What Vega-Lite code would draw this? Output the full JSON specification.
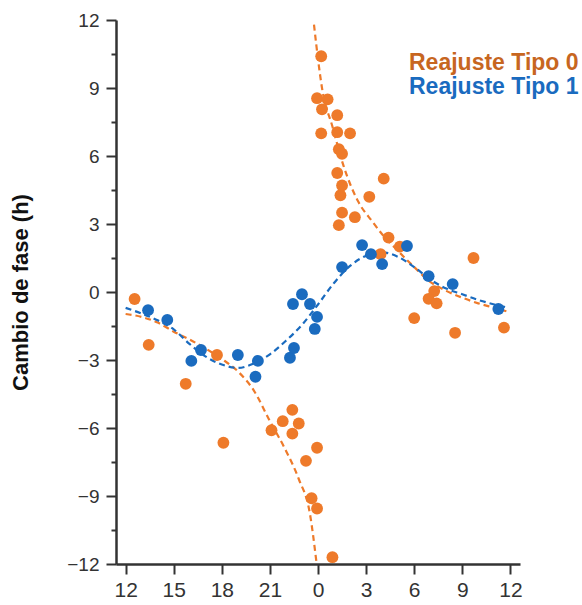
{
  "$schema": "https://vega.github.io/schema/vega-lite/v6.json",
  "autosize": "none",
  "width": 404,
  "height": 544,
  "padding": {"left": 116, "top": 20, "right": 62, "bottom": 41},
  "background": "white",
  "config": {
    "view": {"stroke": null},
    "font": "Liberation Sans",
    "axis": {
      "grid": false,
      "domainColor": "#333333",
      "domainWidth": 2.5,
      "tickColor": "#333333",
      "tickWidth": 2,
      "labelColor": "#333333",
      "labelFont": "Liberation Sans",
      "labelOverlap": false
    }
  },
  "datasets": {
    "puntos": [
      {"hora": -11.44, "cambio": -0.31, "grupo": "Reajuste Tipo 0"},
      {"hora": -10.56, "cambio": -2.33, "grupo": "Reajuste Tipo 0"},
      {"hora": -8.25, "cambio": -4.05, "grupo": "Reajuste Tipo 0"},
      {"hora": -6.3, "cambio": -2.78, "grupo": "Reajuste Tipo 0"},
      {"hora": -5.9, "cambio": -6.65, "grupo": "Reajuste Tipo 0"},
      {"hora": -2.9, "cambio": -6.1, "grupo": "Reajuste Tipo 0"},
      {"hora": -2.2, "cambio": -5.7, "grupo": "Reajuste Tipo 0"},
      {"hora": -1.6, "cambio": -5.2, "grupo": "Reajuste Tipo 0"},
      {"hora": -1.2, "cambio": -5.8, "grupo": "Reajuste Tipo 0"},
      {"hora": -1.6, "cambio": -6.25, "grupo": "Reajuste Tipo 0"},
      {"hora": -0.06, "cambio": -6.87, "grupo": "Reajuste Tipo 0"},
      {"hora": -0.75, "cambio": -7.45, "grupo": "Reajuste Tipo 0"},
      {"hora": -0.4, "cambio": -9.1, "grupo": "Reajuste Tipo 0"},
      {"hora": -0.06, "cambio": -9.55, "grupo": "Reajuste Tipo 0"},
      {"hora": 0.9, "cambio": -11.7, "grupo": "Reajuste Tipo 0"},
      {"hora": 0.2, "cambio": 10.4, "grupo": "Reajuste Tipo 0"},
      {"hora": -0.06, "cambio": 8.55, "grupo": "Reajuste Tipo 0"},
      {"hora": 0.6, "cambio": 8.5, "grupo": "Reajuste Tipo 0"},
      {"hora": 0.25, "cambio": 8.06, "grupo": "Reajuste Tipo 0"},
      {"hora": 1.2, "cambio": 7.8, "grupo": "Reajuste Tipo 0"},
      {"hora": 0.2, "cambio": 7.0, "grupo": "Reajuste Tipo 0"},
      {"hora": 1.2, "cambio": 7.05, "grupo": "Reajuste Tipo 0"},
      {"hora": 2.0, "cambio": 7.0, "grupo": "Reajuste Tipo 0"},
      {"hora": 1.3, "cambio": 6.3, "grupo": "Reajuste Tipo 0"},
      {"hora": 1.5, "cambio": 6.1, "grupo": "Reajuste Tipo 0"},
      {"hora": 1.2, "cambio": 5.25, "grupo": "Reajuste Tipo 0"},
      {"hora": 1.5, "cambio": 4.7, "grupo": "Reajuste Tipo 0"},
      {"hora": 1.4, "cambio": 4.27, "grupo": "Reajuste Tipo 0"},
      {"hora": 4.1, "cambio": 5.0, "grupo": "Reajuste Tipo 0"},
      {"hora": 3.2, "cambio": 4.2, "grupo": "Reajuste Tipo 0"},
      {"hora": 1.5, "cambio": 3.5, "grupo": "Reajuste Tipo 0"},
      {"hora": 2.3, "cambio": 3.3, "grupo": "Reajuste Tipo 0"},
      {"hora": 1.3, "cambio": 2.95, "grupo": "Reajuste Tipo 0"},
      {"hora": 4.4, "cambio": 2.4, "grupo": "Reajuste Tipo 0"},
      {"hora": 5.1, "cambio": 2.0, "grupo": "Reajuste Tipo 0"},
      {"hora": 3.9, "cambio": 1.67, "grupo": "Reajuste Tipo 0"},
      {"hora": 9.7, "cambio": 1.5, "grupo": "Reajuste Tipo 0"},
      {"hora": 7.25, "cambio": 0.04, "grupo": "Reajuste Tipo 0"},
      {"hora": 6.9, "cambio": -0.3, "grupo": "Reajuste Tipo 0"},
      {"hora": 7.4, "cambio": -0.5, "grupo": "Reajuste Tipo 0"},
      {"hora": 6.0, "cambio": -1.15, "grupo": "Reajuste Tipo 0"},
      {"hora": 8.55, "cambio": -1.8, "grupo": "Reajuste Tipo 0"},
      {"hora": 11.6, "cambio": -1.57, "grupo": "Reajuste Tipo 0"},
      {"hora": -10.6, "cambio": -0.8, "grupo": "Reajuste Tipo 1"},
      {"hora": -9.4, "cambio": -1.23, "grupo": "Reajuste Tipo 1"},
      {"hora": -7.9, "cambio": -3.04, "grupo": "Reajuste Tipo 1"},
      {"hora": -7.3, "cambio": -2.56, "grupo": "Reajuste Tipo 1"},
      {"hora": -5.0, "cambio": -2.78, "grupo": "Reajuste Tipo 1"},
      {"hora": -3.75, "cambio": -3.04, "grupo": "Reajuste Tipo 1"},
      {"hora": -3.9, "cambio": -3.74, "grupo": "Reajuste Tipo 1"},
      {"hora": -1.75, "cambio": -2.9, "grupo": "Reajuste Tipo 1"},
      {"hora": -1.5, "cambio": -2.47, "grupo": "Reajuste Tipo 1"},
      {"hora": -1.56, "cambio": -0.53, "grupo": "Reajuste Tipo 1"},
      {"hora": -1.0, "cambio": -0.1, "grupo": "Reajuste Tipo 1"},
      {"hora": -0.5, "cambio": -0.53, "grupo": "Reajuste Tipo 1"},
      {"hora": -0.06, "cambio": -1.1, "grupo": "Reajuste Tipo 1"},
      {"hora": -0.2, "cambio": -1.63, "grupo": "Reajuste Tipo 1"},
      {"hora": 1.5, "cambio": 1.1, "grupo": "Reajuste Tipo 1"},
      {"hora": 2.75, "cambio": 2.07, "grupo": "Reajuste Tipo 1"},
      {"hora": 3.3, "cambio": 1.67, "grupo": "Reajuste Tipo 1"},
      {"hora": 4.0, "cambio": 1.23, "grupo": "Reajuste Tipo 1"},
      {"hora": 5.55, "cambio": 2.03, "grupo": "Reajuste Tipo 1"},
      {"hora": 6.9, "cambio": 0.7, "grupo": "Reajuste Tipo 1"},
      {"hora": 8.4, "cambio": 0.35, "grupo": "Reajuste Tipo 1"},
      {"hora": 11.25, "cambio": -0.75, "grupo": "Reajuste Tipo 1"}
    ],
    "curvas": [
      {"hora": -12, "cambio": -0.97, "grupo": "Reajuste Tipo 0", "curva": "t0a"},
      {"hora": -11, "cambio": -1.1, "grupo": "Reajuste Tipo 0", "curva": "t0a"},
      {"hora": -10, "cambio": -1.35, "grupo": "Reajuste Tipo 0", "curva": "t0a"},
      {"hora": -9, "cambio": -1.75, "grupo": "Reajuste Tipo 0", "curva": "t0a"},
      {"hora": -8, "cambio": -2.1, "grupo": "Reajuste Tipo 0", "curva": "t0a"},
      {"hora": -7, "cambio": -2.5, "grupo": "Reajuste Tipo 0", "curva": "t0a"},
      {"hora": -6, "cambio": -2.95, "grupo": "Reajuste Tipo 0", "curva": "t0a"},
      {"hora": -5, "cambio": -3.5, "grupo": "Reajuste Tipo 0", "curva": "t0a"},
      {"hora": -4, "cambio": -4.35, "grupo": "Reajuste Tipo 0", "curva": "t0a"},
      {"hora": -3, "cambio": -5.7, "grupo": "Reajuste Tipo 0", "curva": "t0a"},
      {"hora": -2, "cambio": -7.0, "grupo": "Reajuste Tipo 0", "curva": "t0a"},
      {"hora": -1.2, "cambio": -8.25, "grupo": "Reajuste Tipo 0", "curva": "t0a"},
      {"hora": -0.5, "cambio": -9.8, "grupo": "Reajuste Tipo 0", "curva": "t0a"},
      {"hora": -0.1, "cambio": -11.9, "grupo": "Reajuste Tipo 0", "curva": "t0a"},
      {"hora": -0.25, "cambio": 11.8, "grupo": "Reajuste Tipo 0", "curva": "t0b"},
      {"hora": 0.05, "cambio": 10.0, "grupo": "Reajuste Tipo 0", "curva": "t0b"},
      {"hora": 0.25, "cambio": 9.0, "grupo": "Reajuste Tipo 0", "curva": "t0b"},
      {"hora": 0.9, "cambio": 7.3, "grupo": "Reajuste Tipo 0", "curva": "t0b"},
      {"hora": 1.6, "cambio": 5.55, "grupo": "Reajuste Tipo 0", "curva": "t0b"},
      {"hora": 2.5, "cambio": 4.0, "grupo": "Reajuste Tipo 0", "curva": "t0b"},
      {"hora": 3.4, "cambio": 3.1, "grupo": "Reajuste Tipo 0", "curva": "t0b"},
      {"hora": 4.0, "cambio": 2.55, "grupo": "Reajuste Tipo 0", "curva": "t0b"},
      {"hora": 4.8, "cambio": 1.95, "grupo": "Reajuste Tipo 0", "curva": "t0b"},
      {"hora": 6, "cambio": 1.1, "grupo": "Reajuste Tipo 0", "curva": "t0b"},
      {"hora": 7, "cambio": 0.45, "grupo": "Reajuste Tipo 0", "curva": "t0b"},
      {"hora": 8, "cambio": 0.05, "grupo": "Reajuste Tipo 0", "curva": "t0b"},
      {"hora": 9, "cambio": -0.25, "grupo": "Reajuste Tipo 0", "curva": "t0b"},
      {"hora": 10, "cambio": -0.5, "grupo": "Reajuste Tipo 0", "curva": "t0b"},
      {"hora": 11, "cambio": -0.7, "grupo": "Reajuste Tipo 0", "curva": "t0b"},
      {"hora": 11.75, "cambio": -0.85, "grupo": "Reajuste Tipo 0", "curva": "t0b"},
      {"hora": -12, "cambio": -0.7, "grupo": "Reajuste Tipo 1", "curva": "t1"},
      {"hora": -11, "cambio": -0.95, "grupo": "Reajuste Tipo 1", "curva": "t1"},
      {"hora": -10, "cambio": -1.25, "grupo": "Reajuste Tipo 1", "curva": "t1"},
      {"hora": -9, "cambio": -1.65, "grupo": "Reajuste Tipo 1", "curva": "t1"},
      {"hora": -8, "cambio": -2.3, "grupo": "Reajuste Tipo 1", "curva": "t1"},
      {"hora": -7, "cambio": -2.85, "grupo": "Reajuste Tipo 1", "curva": "t1"},
      {"hora": -6, "cambio": -3.2, "grupo": "Reajuste Tipo 1", "curva": "t1"},
      {"hora": -5, "cambio": -3.35, "grupo": "Reajuste Tipo 1", "curva": "t1"},
      {"hora": -4, "cambio": -3.15, "grupo": "Reajuste Tipo 1", "curva": "t1"},
      {"hora": -3, "cambio": -2.75, "grupo": "Reajuste Tipo 1", "curva": "t1"},
      {"hora": -2, "cambio": -2.15, "grupo": "Reajuste Tipo 1", "curva": "t1"},
      {"hora": -1, "cambio": -1.45, "grupo": "Reajuste Tipo 1", "curva": "t1"},
      {"hora": 0, "cambio": -0.55, "grupo": "Reajuste Tipo 1", "curva": "t1"},
      {"hora": 1, "cambio": 0.4, "grupo": "Reajuste Tipo 1", "curva": "t1"},
      {"hora": 2, "cambio": 1.15, "grupo": "Reajuste Tipo 1", "curva": "t1"},
      {"hora": 3, "cambio": 1.6, "grupo": "Reajuste Tipo 1", "curva": "t1"},
      {"hora": 4, "cambio": 1.75, "grupo": "Reajuste Tipo 1", "curva": "t1"},
      {"hora": 5, "cambio": 1.55, "grupo": "Reajuste Tipo 1", "curva": "t1"},
      {"hora": 6, "cambio": 1.1, "grupo": "Reajuste Tipo 1", "curva": "t1"},
      {"hora": 7, "cambio": 0.55, "grupo": "Reajuste Tipo 1", "curva": "t1"},
      {"hora": 8, "cambio": 0.15, "grupo": "Reajuste Tipo 1", "curva": "t1"},
      {"hora": 9, "cambio": -0.1, "grupo": "Reajuste Tipo 1", "curva": "t1"},
      {"hora": 10, "cambio": -0.35, "grupo": "Reajuste Tipo 1", "curva": "t1"},
      {"hora": 11, "cambio": -0.55, "grupo": "Reajuste Tipo 1", "curva": "t1"},
      {"hora": 11.9, "cambio": -0.7, "grupo": "Reajuste Tipo 1", "curva": "t1"}
    ]
  },
  "encoding": {
    "x": {
      "field": "hora",
      "type": "quantitative",
      "scale": {"domain": [-12.6, 12.6], "nice": false, "zero": false},
      "axis": {
        "title": null,
        "values": [-12, -9, -6, -3, 0, 3, 6, 9, 12],
        "labelExpr": "datum.value < 0 ? datum.value + 24 : datum.value",
        "labelFontSize": 21,
        "tickSize": 10,
        "labelPadding": 5
      }
    },
    "y": {
      "field": "cambio",
      "type": "quantitative",
      "scale": {"domain": [-12, 12], "nice": false},
      "axis": {
        "title": "Cambio de fase (h)",
        "titleFontSize": 22,
        "titleFontWeight": "bold",
        "titleColor": "#111111",
        "titlePadding": 34,
        "values": [-12, -10.5, -9, -7.5, -6, -4.5, -3, -1.5, 0, 1.5, 3, 4.5, 6, 7.5, 9, 10.5, 12],
        "labelExpr": "datum.value % 3 === 0 ? datum.label : ''",
        "labelFontSize": 19,
        "labelPadding": 7,
        "tickSize": {"condition": {"test": "datum.value % 3 === 0", "value": 10}, "value": 5}
      }
    },
    "color": {
      "field": "grupo",
      "type": "nominal",
      "scale": {"domain": ["Reajuste Tipo 0", "Reajuste Tipo 1"], "range": ["#EE7A2A", "#1A6BBF"]},
      "legend": {
        "title": null,
        "orient": "none",
        "legendX": 270,
        "legendY": 31,
        "padding": 0,
        "symbolSize": 0,
        "symbolOpacity": 0,
        "symbolStrokeWidth": 0,
        "labelOffset": 0,
        "labelLimit": 400,
        "labelFontSize": 23,
        "labelFontWeight": "bold",
        "labelFont": "Liberation Sans",
        "rowPadding": 0,
        "encode": {
          "labels": {
            "update": {
              "fill": {"signal": "datum.value === 'Reajuste Tipo 0' ? '#C7661F' : '#1A6BBF'"}
            }
          }
        }
      }
    }
  },
  "layer": [
    {
      "data": {"name": "curvas"},
      "mark": {"type": "line", "strokeDash": [6, 4], "strokeWidth": 2.2, "interpolate": "monotone", "clip": true},
      "encoding": {"detail": {"field": "curva", "type": "nominal"}}
    },
    {
      "data": {"name": "puntos"},
      "mark": {"type": "point", "shape": "circle", "filled": true, "size": 140, "opacity": 1}
    }
  ]
}
